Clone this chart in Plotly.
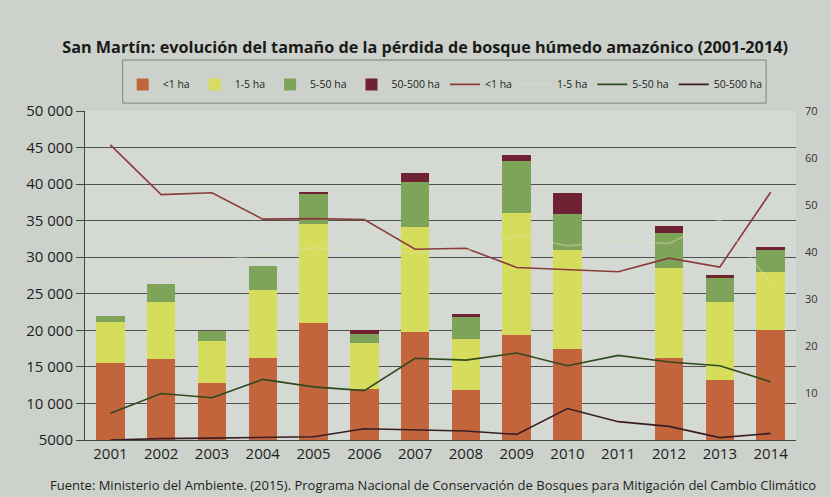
import plotly.graph_objects as go

years = ["2001", "2002", "2003", "2004", "2005", "2006", "2007",
         "2008", "2009", "2010", "2011", "2012", "2013", "2014"]

# Stacked bars (ha)
bar_lt1 = [15500, 16050, 12800, 16200, 21070, 12000, 19800, 11850, 19400, 17430, None, 16150, 13190, 20000]
bar_1_5 = [5700, 7780, 5700, 9350, 13460, 6220, 14400, 6970, 16700, 13520, None, 12370, 10630, 8000]
bar_5_50 = [800, 2450, 1450, 3230, 4090, 1340, 6100, 3030, 7100, 5010, None, 4770, 3360, 3000]
bar_50_500 = [0, 0, 0, 0, 330, 470, 1180, 330, 730, 2770, None, 990, 360, 400]

# Lines (%), right axis
pct_lt1 = [62.8, 52.2, 52.6, 47.0, 47.1, 46.9, 40.6, 40.8, 36.7, 36.2, 35.8, 38.7, 36.8, 52.7]
pct_1_5 = [31.5, 37.6, 38.0, 39.5, 40.9, 40.2, 39.8, 40.3, 43.6, 41.3, 42.3, 41.8, 46.9, 33.5]
pct_5_50 = [5.7, 9.9, 9.0, 12.9, 11.3, 10.5, 17.4, 17.0, 18.5, 15.8, 18.0, 16.6, 15.8, 12.4]
pct_50_500 = [0.0, 0.3, 0.4, 0.6, 0.7, 2.4, 2.2, 1.9, 1.2, 6.7, 3.9, 2.9, 0.5, 1.4]

left_ticks = [5000, 10000, 15000, 20000, 25000, 30000, 35000, 40000, 45000, 50000]
left_ticktext = ["5000", "10 000", "15 000", "20 000", "25 000", "30 000",
                 "35 000", "40 000", "45 000", "50 000"]
right_ticks = [10, 20, 30, 40, 50, 60, 70]

title = "San Martín: evolución del tamaño de la pérdida de bosque húmedo amazónico (2001-2014)"
source = ("Fuente: Ministerio del Ambiente. (2015). Programa Nacional de Conservación de "
          "Bosques para Mitigación del Cambio Climático")

fig = go.Figure()
bar_specs = [
    ("<1 ha", bar_lt1, "#c2643c"),
    ("1-5 ha", bar_1_5, "#d6dc5c"),
    ("5-50 ha", bar_5_50, "#7ea45a"),
    ("50-500 ha", bar_50_500, "#6e2232"),
]
line_specs = [
    ("<1 ha", pct_lt1, "#8a3c3c"),
    ("1-5 ha", pct_1_5, "rgba(225,228,185,0.4)"),
    ("5-50 ha", pct_5_50, "#2f4a1c"),
    ("50-500 ha", pct_50_500, "#3a1c24"),
]
for name, vals, col in bar_specs:
    fig.add_trace(go.Bar(x=years, y=vals, name=name, marker=dict(color=col, line=dict(width=0)),
                         width=0.56, legendrank=1))
for i, (name, vals, col) in enumerate(line_specs):
    fig.add_trace(go.Scatter(x=years, y=vals, name=name, yaxis="y2", mode="lines",
                             line=dict(color=col, width=1.6), legendrank=2 + i))

fig.update_layout(
    width=831, height=497,
    margin=dict(l=85, r=35, t=111, b=57, autoexpand=False),
    paper_bgcolor="#cdd1cc",
    plot_bgcolor="#d5d9d3",
    barmode="stack",
    font=dict(family="Open Sans, DejaVu Sans, sans-serif", color="#1e1e1e"),
    title=dict(text="<b>" + title + "</b>", x=0.075, xanchor="left", y=0.905, yanchor="middle",
               font=dict(size=16.2, color="#1a1a1a")),
    legend=dict(orientation="h", x=0.053, xanchor="left", y=1.125, yanchor="top",
                bgcolor="rgba(0,0,0,0)", borderwidth=0,
                font=dict(size=10.5), itemwidth=30, tracegroupgap=0, traceorder="normal"),
    shapes=[dict(type="rect", xref="paper", yref="paper", x0=0.053, x1=0.958,
                 y0=1.024, y1=1.155, line=dict(color="#808080", width=1))],
    xaxis=dict(type="category", tickfont=dict(size=15), showgrid=False,
               showline=True, linecolor="#444", ticks=""),
    yaxis=dict(range=[5000, 50000], tickvals=left_ticks, ticktext=left_ticktext,
               tickfont=dict(size=15), showgrid=True, gridcolor="#505050", gridwidth=1,
               ticks="outside", ticklen=8, tickcolor="#444", showline=True, linecolor="#444",
               zeroline=False),
    yaxis2=dict(range=[0, 70], overlaying="y", side="right", tickvals=right_ticks,
                tickfont=dict(size=11, color="#333"), showgrid=False, showline=False,
                ticks="", zeroline=False, ticklabelstandoff=8),
    annotations=[dict(text=source, xref="paper", yref="paper", x=-0.052, xanchor="left",
                      y=-0.103, yanchor="top", showarrow=False, font=dict(size=13))],
)

fig.write_html("out.html", post_script="document.body.style.margin='0';",
               config={"displayModeBar": False})
